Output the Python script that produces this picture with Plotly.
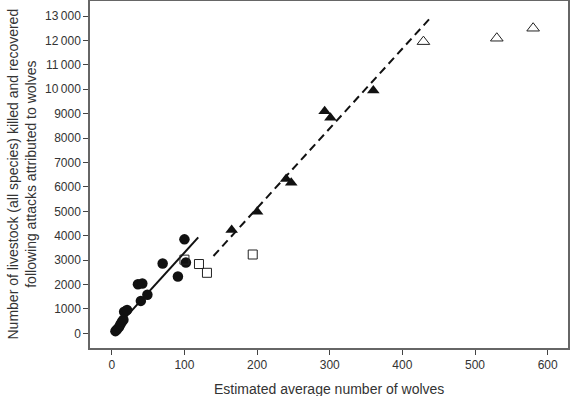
import plotly.graph_objects as go

# Data
circle_x = [5, 7, 10, 12, 14, 16, 17, 21, 36, 42, 40, 49, 70, 91, 100, 102]
circle_y = [90, 160, 260, 370, 480, 560, 890, 960, 2010, 2040, 1330, 1580, 2860, 2330, 3850, 2900]

square_x = [100, 120, 131, 194]
square_y = [3020, 2840, 2480, 3230]

tri_x = [165, 200, 240, 247, 293, 301, 360]
tri_y = [4230, 4980, 6320, 6170, 9100, 8830, 9950]

open_tri_x = [429, 530, 580]
open_tri_y = [11950, 12090, 12500]

solid_fit_x = [3, 119]
solid_fit_y = [130, 3930]
dash_fit_x = [140, 440]
dash_fit_y = [3170, 12970]

x_ticks = [0, 100, 200, 300, 400, 500, 600]
y_ticks = list(range(0, 14000, 1000))
y_ticklabels = ["0", "1000", "2000", "3000", "4000", "5000", "6000", "7000",
                "8000", "9000", "10\u2009000", "11\u2009000", "12\u2009000", "13\u2009000"]

x_title = "Estimated average number of wolves"
y_title = "Number of livestock (all species) killed and recovered<br>following attacks attributed to wolves"

FONT = "Liberation Sans, Arial"

fig = go.Figure()
fig.add_trace(go.Scatter(x=solid_fit_x, y=solid_fit_y, mode="lines",
                         line=dict(color="#111", width=2), showlegend=False))
fig.add_trace(go.Scatter(x=dash_fit_x, y=dash_fit_y, mode="lines",
                         line=dict(color="#111", width=2, dash="8px,5px"), showlegend=False))
fig.add_trace(go.Scatter(x=circle_x, y=circle_y, mode="markers",
                         marker=dict(symbol="circle", size=10.5, color="#111"), showlegend=False))
fig.add_trace(go.Scatter(x=square_x, y=square_y, mode="markers",
                         marker=dict(symbol="square-open", size=9, color="#222",
                                     line=dict(width=1)), showlegend=False))
fig.add_trace(go.Scatter(x=tri_x, y=tri_y, mode="markers",
                         marker=dict(symbol="triangle-up", size=11, color="#111"), showlegend=False))
fig.add_trace(go.Scatter(x=open_tri_x, y=open_tri_y, mode="markers",
                         marker=dict(symbol="triangle-up-open", size=11, color="#222",
                                     line=dict(width=1)), showlegend=False))

axis_common = dict(showgrid=False, zeroline=False, showline=True, linecolor="#666",
                   linewidth=1.5, mirror=True, ticks="outside", ticklen=5,
                   tickcolor="#444", automargin=False,
                   tickfont=dict(family=FONT, size=12, color="#333"))
fig.update_xaxes(range=[-30, 628], tickvals=x_ticks, **axis_common)
fig.update_yaxes(range=[-600, 13615], tickvals=y_ticks, ticktext=y_ticklabels, **axis_common)

fig.add_annotation(text=x_title, xref="paper", yref="paper", x=0.5, y=0,
                   yshift=-41, yanchor="middle", showarrow=False,
                   font=dict(family=FONT, size=14, color="#333"))
fig.add_annotation(text=y_title, xref="paper", yref="paper", x=0, y=0.5,
                   xshift=-69, xanchor="center", textangle=-90, showarrow=False,
                   font=dict(family=FONT, size=14, color="#333"))

fig.update_layout(width=572, height=396, margin=dict(l=90, r=4, t=1, b=48),
                  plot_bgcolor="white", paper_bgcolor="white")
fig.write_html("out.html", config={"displayModeBar": False},
               post_script="document.body.style.margin='0';document.body.style.overflow='hidden';")
